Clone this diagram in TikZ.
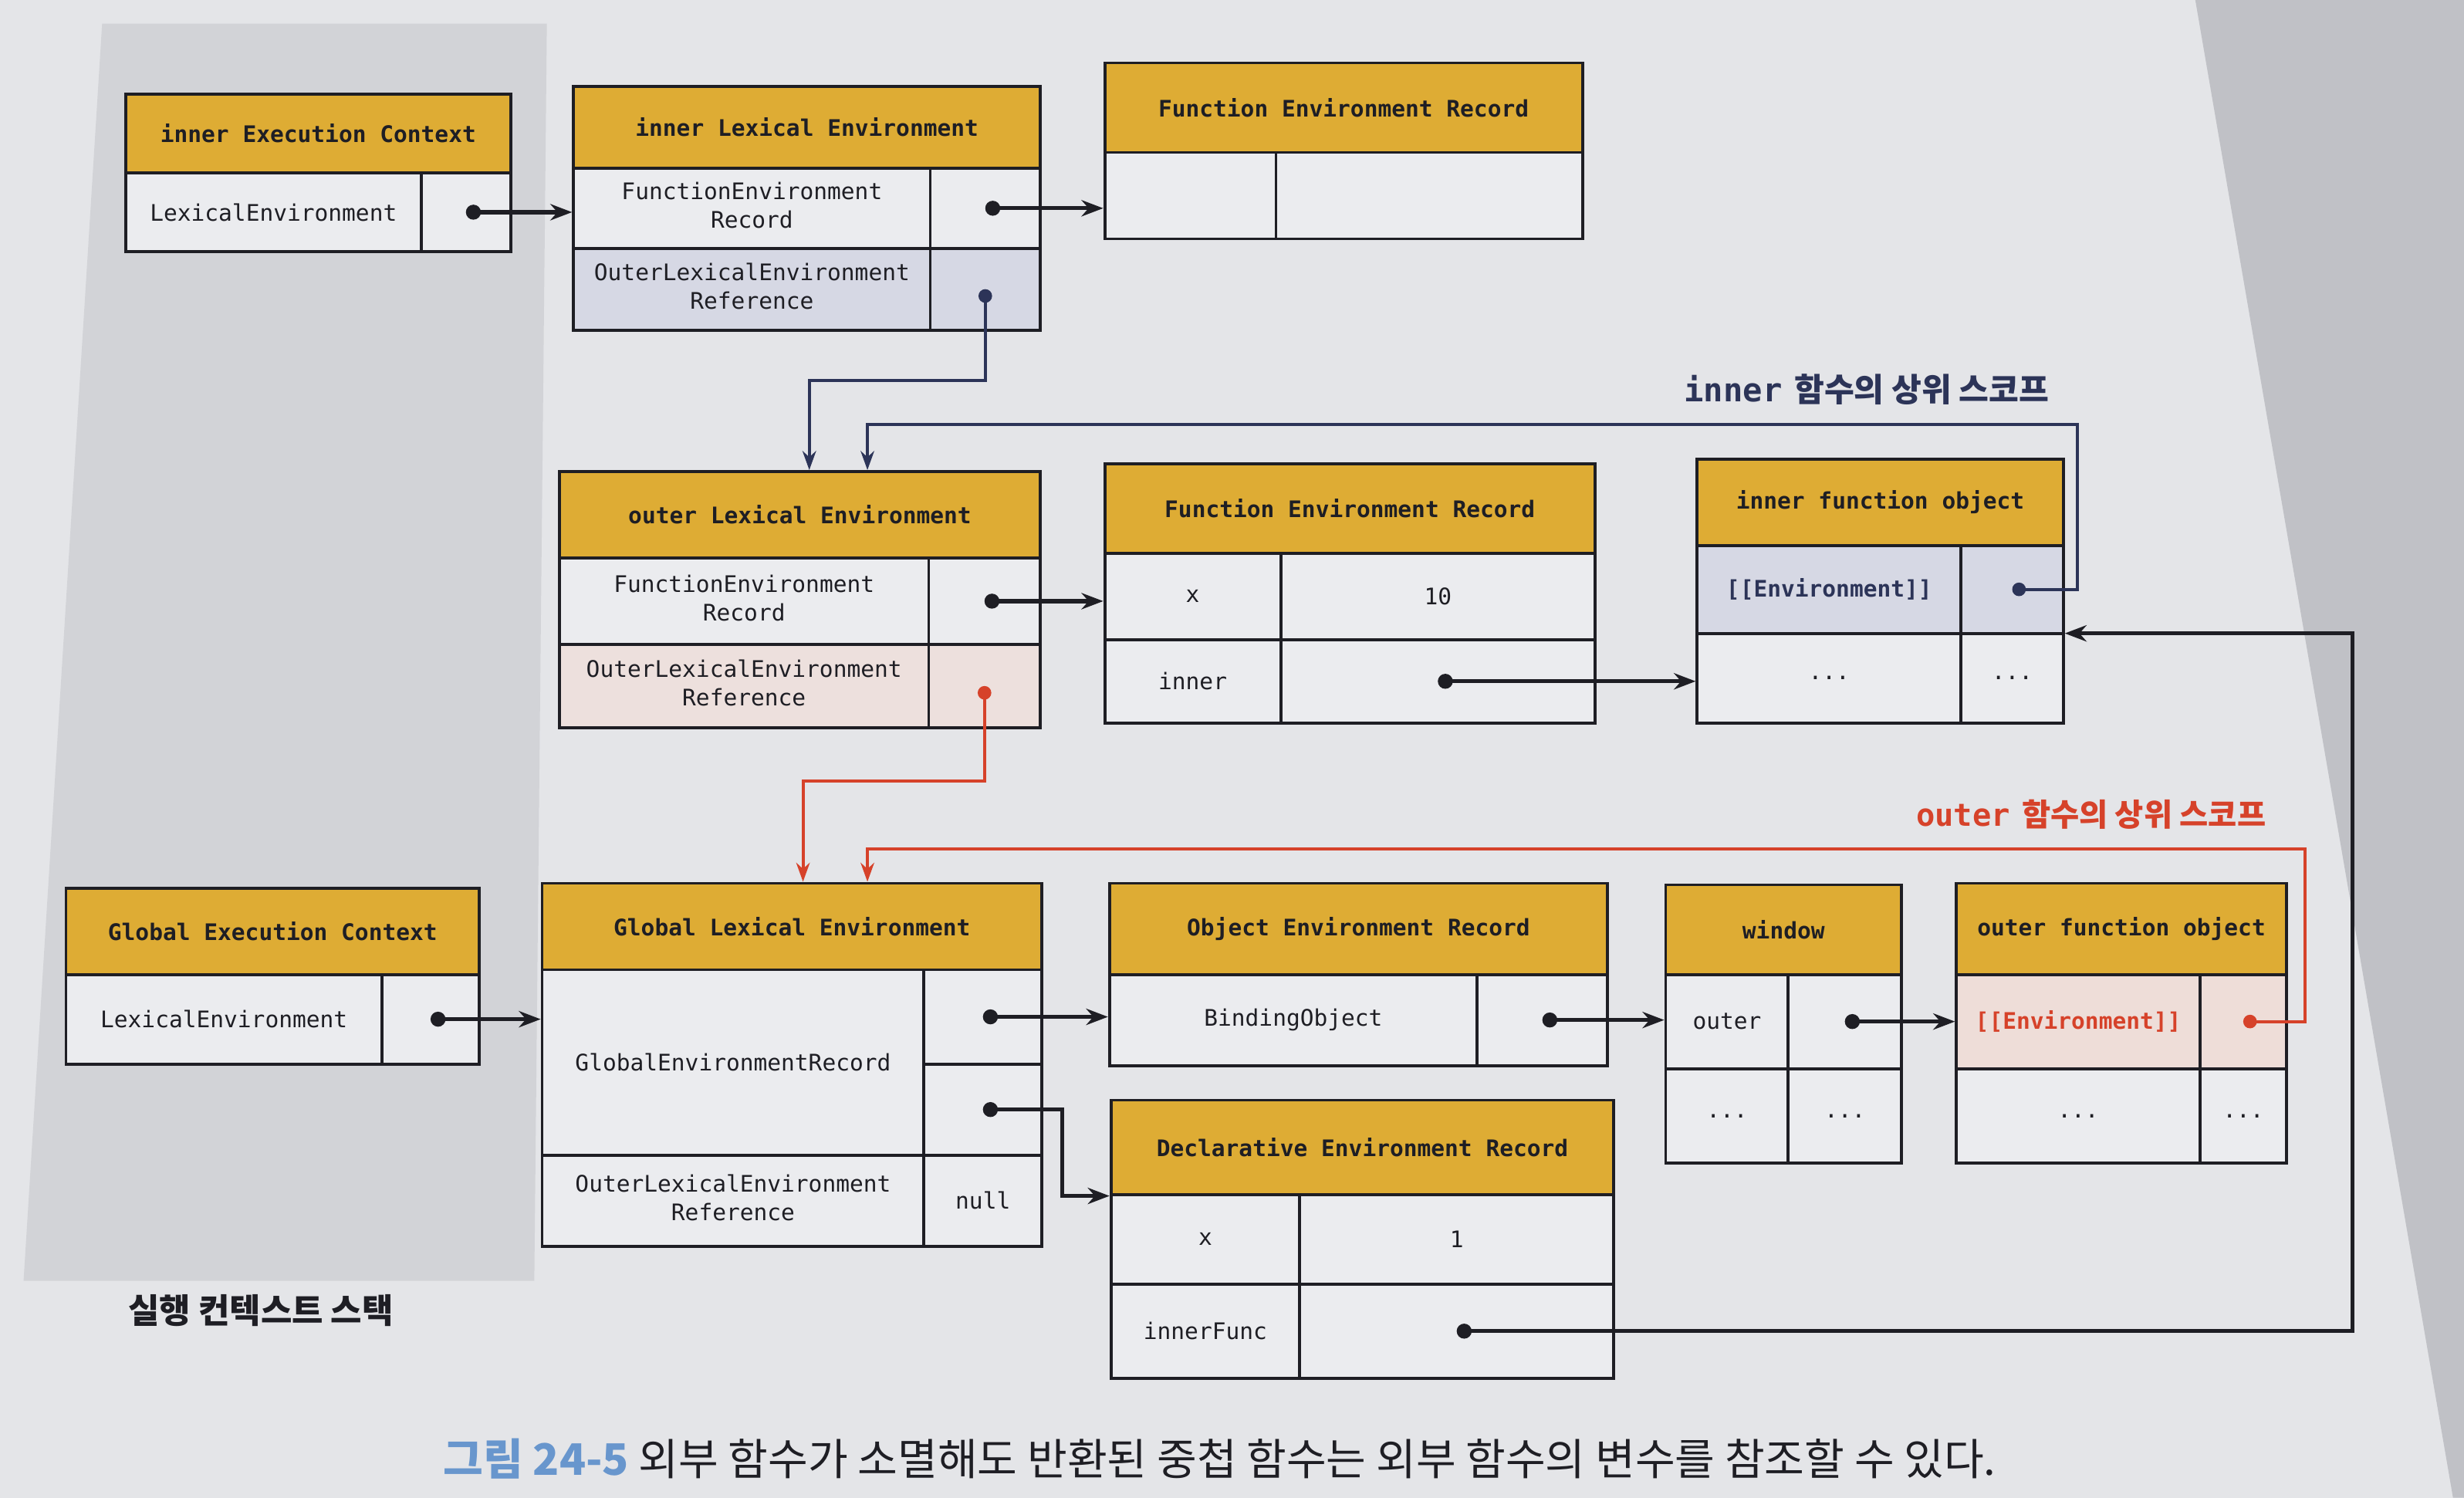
\documentclass[tikz,border=0pt]{standalone}
\usepackage{fontspec}
\setmonofont{DejaVu Sans Mono}
\newfontfamily\kor{Noto Sans CJK KR}
\usepackage{xcolor}
\usepackage{tikz}
\usetikzlibrary{arrows.meta,fit}

\definecolor{gold}{RGB}{222,172,52}
\definecolor{pagebg}{RGB}{228,229,232}
\definecolor{stackbg}{RGB}{210,211,215}
\definecolor{edgebg}{RGB}{192,193,198}
\definecolor{cellbg}{RGB}{235,236,239}
\definecolor{bluecell}{RGB}{214,216,228}
\definecolor{pinkcell}{RGB}{238,221,216}
\definecolor{navy}{RGB}{44,52,88}
\definecolor{scopered}{RGB}{214,66,42}
\definecolor{capblue}{RGB}{104,150,205}
\definecolor{ink}{RGB}{30,30,36}

\newcommand{\celldots}{...}
\newcommand{\twolines}[2]{\begin{tabular}{@{}c@{}}#1\\#2\end{tabular}}

\tikzset{
  box/.style={draw=ink, line width=1.1pt, inner sep=0pt},
  hdr/.style={box, fill=gold},
  cell/.style={box, fill=cellbg},
  hdrtext/.style={inner sep=0pt, text=ink, font=\fontsize{8.4}{10.5}\selectfont\ttfamily\bfseries},
  celltext/.style={inner sep=0pt, text=ink, font=\fontsize{8.4}{10.5}\selectfont\ttfamily},
  ptr/.style={{Circle[length=5.5pt]}-{Stealth[length=8pt,width=6pt]}, line width=1.5pt, ink},
  nptr/.style={{Circle[length=5pt]}-{Stealth[length=7pt,width=5pt]}, line width=1.1pt, navy},
  rptr/.style={{Circle[length=5pt]}-{Stealth[length=7pt,width=5pt]}, line width=1.1pt, scopered},
  scopelbl/.style={font=\fontsize{12}{14}\selectfont\bfseries},
}

\begin{document}
\begin{tikzpicture}[x=0.02036cm,y=-0.02036cm]
\useasboundingbox (0,0) rectangle (1568,953);
% page, stack panel and page edge
\fill[pagebg] (0,0) rectangle (1568,953);
\fill[stackbg] (65,15) -- (348,15) -- (340,815) -- (15,815) -- cycle;
\fill[edgebg] (1397,0) -- (1568,0) -- (1568,953) -- (1561,953) -- cycle;

% headers
\foreach \nm/\xa/\ya/\xb/\yb/\txt in {
  iecH/80/60/325/110/inner Execution Context,
  ileH/365/55/662/107/inner Lexical Environment,
  tferH/703/40/1007/97/Function Environment Record,
  oleH/356/300/662/355/outer Lexical Environment,
  mferH/703/295/1015/352/Function Environment Record,
  ifoH/1080/292/1313/347/inner function object,
  gecH/42/565/305/620/Global Execution Context,
  gleH/345/562/663/617/Global Lexical Environment,
  oerH/706/562/1023/620/Object Environment Record,
  winH/1060/563/1210/620/window,
  ofoH/1245/562/1455/620/outer function object,
  derH/707/700/1027/760/Declarative Environment Record}
{
  \node[hdr, fit={(\xa,\ya) (\xb,\yb)}] (\nm) {};
  \node[hdrtext] (\nm-t) at (\nm.center) {\txt};
}

% plain cells
\foreach \nm/\xa/\ya/\xb/\yb/\txt in {
  iecL/80/110/268/160/LexicalEnvironment,
  iecP/268/110/325/160/{},
  ileF/365/107/592/158/{\twolines{FunctionEnvironment}{Record}},
  ileFP/592/107/662/158/{},
  tferA/703/97/812/152/{},
  tferB/812/97/1007/152/{},
  oleF/356/355/591/410/{\twolines{FunctionEnvironment}{Record}},
  oleFP/591/355/662/410/{},
  mferX/703/352/815/407/x,
  mferXV/815/352/1015/407/10,
  mferI/703/407/815/460/inner,
  mferIV/815/407/1015/460/{},
  ifoD/1080/403/1248/460/\celldots,
  ifoDP/1248/403/1313/460/\celldots,
  gecL/42/620/243/677/LexicalEnvironment,
  gecP/243/620/305/677/{},
  gleG/345/617/588/735/GlobalEnvironmentRecord,
  gleGP1/588/617/663/677/{},
  gleGP2/588/677/663/735/{},
  gleO/345/735/588/793/{\twolines{OuterLexicalEnvironment}{Reference}},
  gleOP/588/735/663/793/null,
  oerB/706/620/940/678/BindingObject,
  oerBP/940/620/1023/678/{},
  winO/1060/620/1138/680/outer,
  winOP/1138/620/1210/680/{},
  winD/1060/680/1138/740/\celldots,
  winDP/1138/680/1210/740/\celldots,
  ofoD/1245/680/1400/740/\celldots,
  ofoDP/1400/680/1455/740/\celldots,
  derX/707/760/827/817/x,
  derXV/827/760/1027/817/1,
  derI/707/817/827/877/innerFunc,
  derIV/827/817/1027/877/{}}
{
  \node[cell, fit={(\xa,\ya) (\xb,\yb)}] (\nm) {};
  \node[celltext] (\nm-t) at (\nm.center) {\txt};
}

% tinted cells (scope references)
\node[cell, fill=bluecell, fit={(365,158) (592,210)}] (ileO) {};
\node[celltext] (ileO-t) at (ileO.center) {\twolines{OuterLexicalEnvironment}{Reference}};
\node[cell, fill=bluecell, fit={(592,158) (662,210)}] (ileOP) {};
\node[cell, fill=pinkcell!80!cellbg, fit={(356,410) (591,463)}] (oleO) {};
\node[celltext] (oleO-t) at (oleO.center) {\twolines{OuterLexicalEnvironment}{Reference}};
\node[cell, fill=pinkcell!80!cellbg, fit={(591,410) (662,463)}] (oleOP) {};
\node[cell, fill=bluecell, fit={(1080,347) (1248,403)}] (ifoE) {};
\node[hdrtext, text=navy] (ifoE-t) at (ifoE.center) {[[Environment]]};
\node[cell, fill=bluecell, fit={(1248,347) (1313,403)}] (ifoEP) {};
\node[cell, fill=pinkcell, fit={(1245,620) (1400,680)}] (ofoE) {};
\node[hdrtext, text=scopered] (ofoE-t) at (ofoE.center) {[[Environment]]};
\node[cell, fill=pinkcell, fit={(1400,620) (1455,680)}] (ofoEP) {};

% turning points
\coordinate (innerUp) at (515,242);
\coordinate (outerUp) at (511,497);
\coordinate (innerTurn) at (1322,270);
\coordinate (innerDrop) at (552,270);
\coordinate (outerTurn) at (1467,540);
\coordinate (outerDrop) at (552,540);
\coordinate (funcTurn) at (1497,403);
\coordinate (declTurn) at (676,706);

% pointers
\draw[ptr] (iecP.center) -- (iecP.center -| ileF.west);
\draw[ptr] (ileFP.center) -- (ileFP.center -| tferA.west);
\draw[ptr] (oleFP.center) -- (oleFP.center -| mferX.west);
\draw[ptr] (mferIV.center) -- (mferIV.center -| ifoD.west);
\draw[ptr] (gecP.center) -- (gecP.center -| gleG.west);
\draw[ptr] (gleGP1.center) -- (gleGP1.center -| oerB.west);
\draw[ptr] (gleGP2.center) -- (declTurn) |- (derH.south west);
\draw[ptr] (oerBP.center) -- (oerBP.center -| winO.west);
\draw[ptr] (winOP.center) -- (winOP.center -| ofoE.west);
\draw[ptr] (derIV.center) -| (funcTurn) -- (funcTurn -| ifoDP.east);
\draw[nptr] (ileOP.center) |- (innerUp) -- (innerUp |- oleH.north);
\draw[nptr] (ifoEP.center) -| (innerTurn) -- (innerDrop) -- (innerDrop |- oleH.north);
\draw[rptr] (oleOP.center) |- (outerUp) -- (outerUp |- gleH.north);
\draw[rptr] (ofoEP.center) -| (outerTurn) -- (outerDrop) -- (outerDrop |- gleH.north);

% labels
\node[scopelbl, text=navy, anchor=east] (innerLbl) at (1310,248) {{\ttfamily inner} {\kor 함수의 상위 스코프}};
\node[scopelbl, text=scopered, anchor=east, font=\fontsize{11.5}{14}\selectfont\bfseries] (outerLbl) at (1448,518) {{\ttfamily outer} {\kor 함수의 상위 스코프}};
\node[font=\kor\fontsize{12.5}{14}\selectfont\bfseries, text=ink] (stackLbl) at (166,834) {실행 컨텍스트 스택};
\node[anchor=west, font=\kor\fontsize{16}{18}\selectfont, text=ink] (caption) at (276,928) {{\color{capblue}\bfseries 그림 24-5} 외부 함수가 소멸해도 반환된 중첩 함수는 외부 함수의 변수를 참조할 수 있다.};
\end{tikzpicture}
\end{document}
